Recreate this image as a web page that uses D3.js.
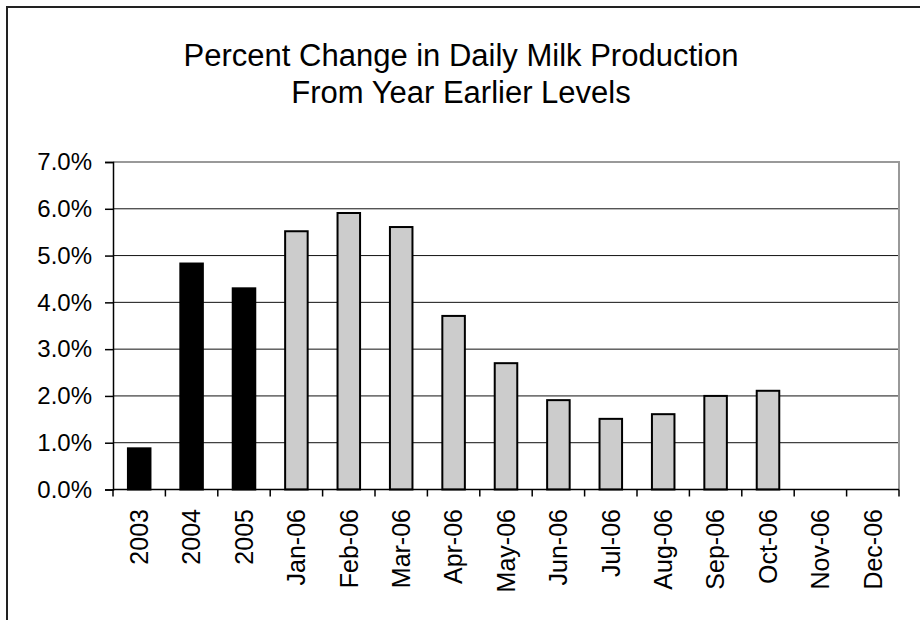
<!DOCTYPE html>
<html>
<head>
<meta charset="utf-8">
<script src="https://cdn.jsdelivr.net/npm/d3@7"></script>
<style>
  body { margin: 0; background: #fff; }
  text { font-family: "Liberation Sans", Arial, sans-serif; fill: #000; }
</style>
</head>
<body>
<div id="chart"></div>
<script>
// chart values
var categories = ["2003", "2004", "2005", "Jan-06", "Feb-06", "Mar-06", "Apr-06", "May-06",
  "Jun-06", "Jul-06", "Aug-06", "Sep-06", "Oct-06", "Nov-06", "Dec-06"];
var pctChange = [0.0088, 0.0483, 0.0430, 0.0552, 0.0591, 0.0561, 0.0371, 0.0270,
  0.0191, 0.0151, 0.0161, 0.0200, 0.0211, null, null];
// annual averages are drawn black, the monthly ones grey
var isAnnual = [true, true, true, false, false, false, false, false,
  false, false, false, false, false, false, false];
var yTicks = [0, 0.01, 0.02, 0.03, 0.04, 0.05, 0.06, 0.07];
var titleLines = ["Percent Change in Daily Milk Production", "From Year Earlier Levels"];

var svgWidth = 920;
var svgHeight = 620;

var plot = { left: 113, right: 899, top: 162, bottom: 489.5 };

var svg = d3.select("#chart")
  .append("svg")
  .attr("width", svgWidth)
  .attr("height", svgHeight);

svg.append("rect")
  .attr("width", svgWidth)
  .attr("height", svgHeight)
  .attr("fill", "#fff");

// chart area border (runs off the right and bottom of the picture)
svg.append("rect")
  .attr("x", 7)
  .attr("y", 7)
  .attr("width", 1000)
  .attr("height", 1000)
  .attr("fill", "none")
  .attr("stroke", "#222")
  .attr("stroke-width", 2);

// title
svg.append("g")
  .selectAll("text")
  .data(titleLines)
  .enter()
  .append("text")
  .attr("x", 461)
  .attr("y", (d, i) => 66 + i * 37)
  .attr("text-anchor", "middle")
  .attr("font-size", "31px")
  .text(d => d);

var xScale = d3.scaleBand()
  .domain(categories)
  .range([plot.left, plot.right]);

var yScale = d3.scaleLinear()
  .domain([0, 0.07])
  .range([plot.bottom, plot.top]);

// gridlines
svg.append("g")
  .selectAll("line")
  .data(yTicks.filter(d => d > 0 && d < 0.07))
  .enter()
  .append("line")
  .attr("x1", plot.left)
  .attr("x2", plot.right)
  .attr("y1", d => yScale(d))
  .attr("y2", d => yScale(d))
  .attr("stroke", "#111")
  .attr("stroke-width", 1);

// plot area border (grey)
svg.append("path")
  .attr("d", `M${plot.left},${plot.top}H${plot.right}V${plot.bottom}`)
  .attr("fill", "none")
  .attr("stroke", "#999")
  .attr("stroke-width", 2);

// bars
var barWidth = xScale.bandwidth() * 0.43;
svg.append("g")
  .selectAll("rect")
  .data(categories.map((c, i) => ({ cat: c, value: pctChange[i], annual: isAnnual[i] }))
    .filter(d => d.value !== null))
  .enter()
  .append("rect")
  .attr("x", d => xScale(d.cat) + (xScale.bandwidth() - barWidth) / 2)
  .attr("y", d => yScale(d.value))
  .attr("width", barWidth)
  .attr("height", d => yScale(0) - yScale(d.value))
  .attr("fill", d => d.annual ? "#000" : "#cccccc")
  .attr("stroke", "#000")
  .attr("stroke-width", 2);

// y axis
var leftAxis = d3.axisLeft(yScale)
  .tickValues(yTicks)
  .tickFormat(d3.format(".1%"))
  .tickSize(8)
  .tickPadding(13);

var yAxis = svg.append("g")
  .attr("transform", `translate(${plot.left},0)`)
  .call(leftAxis);
yAxis.select(".domain").attr("stroke", "#000").attr("stroke-width", 1.5);
yAxis.selectAll(".tick line").attr("stroke", "#000").attr("stroke-width", 1.5);
yAxis.selectAll("text")
  .attr("font-size", "24px")
  .attr("font-family", "Liberation Sans, Arial, sans-serif")
  .attr("fill", "#000");

// x axis: ticks sit between the categories
svg.append("line")
  .attr("x1", plot.left)
  .attr("x2", plot.right)
  .attr("y1", plot.bottom)
  .attr("y2", plot.bottom)
  .attr("stroke", "#000")
  .attr("stroke-width", 1.5);

var boundaries = categories.map(c => xScale(c)).concat([plot.right]);
svg.append("g")
  .selectAll("line")
  .data(boundaries)
  .enter()
  .append("line")
  .attr("x1", d => d)
  .attr("x2", d => d)
  .attr("y1", plot.bottom)
  .attr("y2", plot.bottom + 7)
  .attr("stroke", "#000")
  .attr("stroke-width", 1.5);

svg.append("g")
  .selectAll("text")
  .data(categories)
  .enter()
  .append("text")
  .attr("transform", d => `translate(${xScale(d) + xScale.bandwidth() / 2},509) rotate(-90)`)
  .attr("text-anchor", "end")
  .attr("dy", "0.35em")
  .attr("font-size", "25px")
  .text(d => d);
</script>
</body>
</html>
